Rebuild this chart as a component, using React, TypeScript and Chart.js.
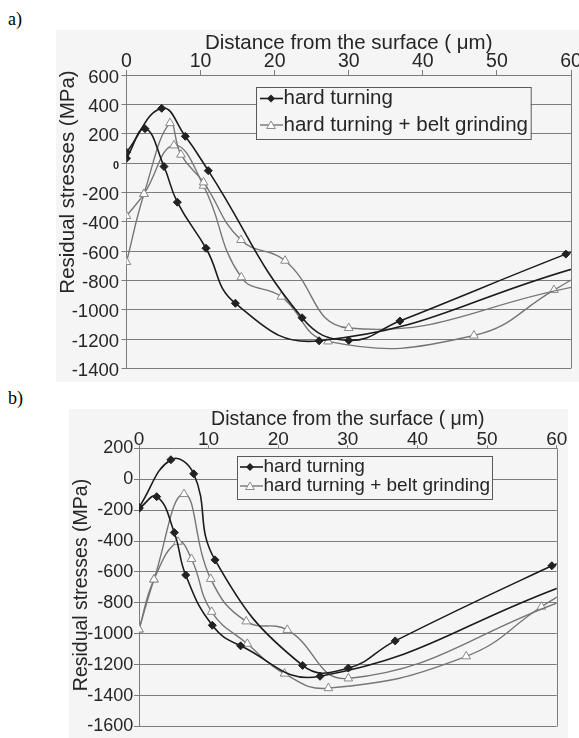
import React, { useEffect, useRef } from "react";
import { Chart, registerables } from "chart.js";

Chart.register(...registerables);

const FONT = '"Liberation Sans", Arial, Helvetica, sans-serif';
const TEXT = "#262626";
const GRID = "#7c7c7c";
const BG = "#f5f5f5";

// ---- shared texts ----
const X_TITLE = "Distance from the surface ( \u03bcm)";
const Y_TITLE = "Residual stresses (MPa)";
const SERIES_NAMES = ["hard turning", "hard turning + belt grinding"];
const X_RANGE = [0, 60];
const X_STEP = 10;
const Y_STEP = 200;

// ---- chart a ----
const A_Y_RANGE = [-1400, 600];
const A_HT1_X = [0, 4.75, 7.94, 11.04, 23.7, 30, 36.9, 59.3, 61];
const A_HT1_Y = [74, 373, 182, -52, -1055, -1209, -1077, -621, -600];
const A_HT2_X = [0, 2.5, 5.06, 6.86, 10.73, 14.7, 26.0, 61];
const A_HT2_Y = [32, 234, -24, -267, -581, -956, -1212, -710];
const A_HB1_X = [0, 2.36, 5.87, 7.35, 10.4, 15.45, 21.4, 30, 61];
const A_HB1_Y = [-675, -211, 272, 57, -132, -525, -666, -1125, -838];
const A_HB2_X = [0, 2.36, 6.4, 10.4, 15.5, 20.9, 27.2, 46.9, 57.7, 61];
const A_HB2_Y = [-361, -211, 120, -155, -779, -911, -1216, -1176, -866, -767];

// ---- chart b ----
const B_Y_RANGE = [-1600, 200];
const B_HT1_X = [0, 4.58, 7.86, 10.92, 23.5, 30.07, 36.8, 59.3, 61];
const B_HT1_Y = [-182, 126, 35, -522, -1205, -1222, -1046, -560, -537];
const B_HT2_X = [0, 2.54, 5.07, 6.71, 10.53, 14.6, 26.0, 61];
const B_HT2_Y = [-190, -113, -345, -620, -945, -1078, -1275, -690];
const B_HB1_X = [0, 2.15, 6.46, 10.3, 15.4, 21.3, 30.07, 61];
const B_HB1_Y = [-972, -649, -96, -645, -920, -975, -1289, -785];
const B_HB2_X = [0, 2.15, 5.6, 7.54, 10.44, 15.56, 20.9, 27.2, 47, 57.8, 61];
const B_HB2_Y = [-972, -649, -405, -516, -858, -1065, -1258, -1352, -1146, -825, -737];

const pts = (xs: number[], ys: number[]) => xs.map((x, i) => ({ x, y: ys[i] }));

const blackSet = (xs: number[], ys: number[]) => ({
  data: pts(xs, ys),
  borderColor: "#1c1c1c",
  borderWidth: 1.6,
  tension: 0.45,
  pointStyle: "rectRot",
  pointRadius: (c: any) => (c.raw && c.raw.x > X_RANGE[1] ? 0 : 4),
  pointBackgroundColor: "#222",
  pointBorderColor: "#222",
  pointBorderWidth: 1,
  fill: false,
});

const graySet = (xs: number[], ys: number[]) => ({
  data: pts(xs, ys),
  borderColor: "#767676",
  borderWidth: 1.4,
  tension: 0.45,
  pointStyle: "triangle",
  pointRadius: (c: any) => (c.raw && c.raw.x > X_RANGE[1] ? 0 : 5),
  pointBackgroundColor: "#ffffff",
  pointBorderColor: "#8a8a8a",
  pointBorderWidth: 1,
  fill: false,
});

function drawDiamond(ctx: CanvasRenderingContext2D, x: number, y: number, r: number) {
  ctx.beginPath();
  ctx.moveTo(x, y - r);
  ctx.lineTo(x + r, y);
  ctx.lineTo(x, y + r);
  ctx.lineTo(x - r, y);
  ctx.closePath();
  ctx.fillStyle = "#222";
  ctx.fill();
}

function drawTriangle(ctx: CanvasRenderingContext2D, x: number, y: number, r: number) {
  const a = (Math.PI * 2) / 3;
  ctx.beginPath();
  for (let i = 0; i < 3; i++) {
    const ang = -Math.PI / 2 + i * a;
    const px = x + Math.cos(ang) * r;
    const py = y + Math.sin(ang) * r;
    if (i === 0) ctx.moveTo(px, py);
    else ctx.lineTo(px, py);
  }
  ctx.closePath();
  ctx.fillStyle = "#fff";
  ctx.fill();
  ctx.strokeStyle = "#8a8a8a";
  ctx.lineWidth = 1;
  ctx.stroke();
}

const panelPlugin = {
  id: "panel",
  beforeDraw(chart: any) {
    const { ctx, width, height } = chart;
    ctx.save();
    ctx.fillStyle = BG;
    ctx.fillRect(0, 0, width, height);
    ctx.restore();
  },
  beforeDatasetsDraw(chart: any) {
    const { ctx, chartArea: ca } = chart;
    ctx.save();
    ctx.strokeStyle = GRID;
    ctx.lineWidth = 1;
    const x = Math.round(ca.right) + 0.5;
    ctx.beginPath();
    ctx.moveTo(x, ca.top);
    ctx.lineTo(x, ca.bottom);
    ctx.stroke();
    ctx.restore();
  },
  afterDatasetsDraw(chart: any, _a: any, o: any) {
    const { ctx } = chart;
    const L = o.legend;
    ctx.save();
    ctx.fillStyle = BG;
    ctx.fillRect(L.x, L.y, L.w, L.h);
    ctx.strokeStyle = "#5a5a5a";
    ctx.lineWidth = 1;
    ctx.strokeRect(Math.round(L.x) + 0.5, Math.round(L.y) + 0.5, L.w, L.h);
    ctx.font = `${L.size}px ${FONT}`;
    ctx.textAlign = "left";
    ctx.textBaseline = "middle";
    SERIES_NAMES.forEach((name, i) => {
      const y = L.rows[i];
      ctx.beginPath();
      ctx.moveTo(L.x1, y);
      ctx.lineTo(L.x2, y);
      ctx.strokeStyle = i === 0 ? "#1c1c1c" : "#767676";
      ctx.lineWidth = i === 0 ? 1.6 : 1.4;
      ctx.stroke();
      if (i === 0) drawDiamond(ctx, L.mx, y, 4);
      else drawTriangle(ctx, L.mx, y + 1, 5);
      ctx.fillStyle = TEXT;
      ctx.fillText(name, L.tx, y);
    });
    ctx.restore();
  },
  afterDraw(chart: any, _a: any, o: any) {
    const { ctx, chartArea: ca } = chart;
    ctx.save();
    ctx.fillStyle = TEXT;
    ctx.font = `${o.titleSize}px ${FONT}`;
    ctx.textAlign = "center";
    ctx.textBaseline = "alphabetic";
    ctx.fillText(X_TITLE, (ca.left + ca.right) / 2, o.xTitleY);
    ctx.translate(o.yTitleX, o.yTitleY);
    ctx.rotate(-Math.PI / 2);
    ctx.fillText(Y_TITLE, 0, 0);
    ctx.restore();
  },
};

function makeConfig(p: any): any {
  return {
    type: "line",
    data: {
      datasets: [
        blackSet(p.ht1x, p.ht1y),
        blackSet(p.ht2x, p.ht2y),
        graySet(p.hb1x, p.hb1y),
        graySet(p.hb2x, p.hb2y),
      ],
    },
    options: {
      responsive: false,
      animation: false,
      devicePixelRatio: 1,
      layout: { padding: { left: 0, top: 0, right: p.padR, bottom: p.padB } },
      plugins: {
        legend: { display: false },
        tooltip: { enabled: false },
        panel: {
          legend: p.legend,
          titleSize: p.titleSize,
          xTitleY: p.xTitleY,
          yTitleX: p.yTitleX,
          yTitleY: p.yTitleY,
        },
      },
      scales: {
        x: {
          type: "linear",
          position: "top",
          min: X_RANGE[0],
          max: X_RANGE[1],
          afterFit: (s: any) => {
            s.height = p.xAxisH;
          },
          ticks: {
            stepSize: X_STEP,
            autoSkip: false,
            maxRotation: 0,
            color: TEXT,
            padding: p.xTickPad,
            font: { family: FONT, size: p.xTickSize },
            callback: (v: any) => String(v),
          },
          grid: { display: true, drawOnChartArea: false, tickLength: p.xTickLen, color: GRID },
          border: { display: true, color: GRID },
        },
        y: {
          type: "linear",
          min: p.yRange[0],
          max: p.yRange[1],
          afterFit: (s: any) => {
            s.width = p.yAxisW;
          },
          ticks: {
            stepSize: Y_STEP,
            autoSkip: false,
            color: TEXT,
            padding: p.yTickPad,
            labelOffset: p.yLabelOffset,
            font: (c: any) =>
              p.smallZero && c.tick && c.tick.value === 0
                ? { family: FONT, size: 11, weight: "bold" }
                : { family: FONT, size: p.yTickSize },
            callback: (v: any) => String(v),
          },
          grid: { color: GRID, tickLength: 5 },
          border: { display: true, color: GRID },
        },
      },
    },
    plugins: [panelPlugin],
  };
}

function Panel({ p }: { p: any }) {
  const ref = useRef<HTMLCanvasElement | null>(null);
  useEffect(() => {
    if (!ref.current) return;
    const chart = new Chart(ref.current, makeConfig(p));
    return () => chart.destroy();
  }, []);
  return (
    <canvas
      ref={ref}
      width={p.w}
      height={p.h}
      style={{ position: "absolute", left: p.left, top: p.top, width: p.w, height: p.h, display: "block" }}
    />
  );
}

const PANEL_A = {
  left: 56,
  top: 30,
  w: 523,
  h: 352,
  padR: 8,
  padB: 9.7,
  xAxisH: 45,
  yAxisW: 70.5,
  xTickSize: 19.5,
  yTickSize: 18.5,
  titleSize: 20.5,
  xTickPad: -3.2,
  xTickLen: 5,
  yTickPad: 2.5,
  yLabelOffset: 2.5,
  smallZero: true,
  yRange: A_Y_RANGE,
  xTitleY: 19,
  yTitleX: 18,
  yTitleY: 152,
  legend: { x: 200, y: 57.3, w: 274.7, h: 52, rows: [68.5, 95], x1: 204, x2: 227, mx: 215, tx: 227.5, size: 20.5 },
  ht1x: A_HT1_X, ht1y: A_HT1_Y, ht2x: A_HT2_X, ht2y: A_HT2_Y,
  hb1x: A_HB1_X, hb1y: A_HB1_Y, hb2x: A_HB2_X, hb2y: A_HB2_Y,
};

const PANEL_B = {
  left: 69,
  top: 409,
  w: 499,
  h: 329,
  padR: 11.3,
  padB: 5.7,
  xAxisH: 39.3,
  yAxisW: 70,
  xTickSize: 19,
  yTickSize: 18,
  titleSize: 19.5,
  xTickPad: -6.2,
  xTickLen: 3,
  yTickPad: 0.7,
  yLabelOffset: 0,
  smallZero: false,
  yRange: B_Y_RANGE,
  xTitleY: 16,
  yTitleX: 17.7,
  yTitleY: 176,
  legend: { x: 168, y: 47, w: 255, h: 43, rows: [58, 77], x1: 171, x2: 194, mx: 181, tx: 194.5, size: 19 },
  ht1x: B_HT1_X, ht1y: B_HT1_Y, ht2x: B_HT2_X, ht2y: B_HT2_Y,
  hb1x: B_HB1_X, hb1y: B_HB1_Y, hb2x: B_HB2_X, hb2y: B_HB2_Y,
};

const labelStyle: React.CSSProperties = {
  position: "absolute",
  left: 8,
  font: '18px "Liberation Serif", "Times New Roman", serif',
  lineHeight: "18px",
  color: "#000",
};

export default function App() {
  return (
    <div>
      <div style={{ ...labelStyle, top: 10 }}>a)</div>
      <Panel p={PANEL_A} />
      <div style={{ ...labelStyle, top: 389 }}>b)</div>
      <Panel p={PANEL_B} />
    </div>
  );
}
